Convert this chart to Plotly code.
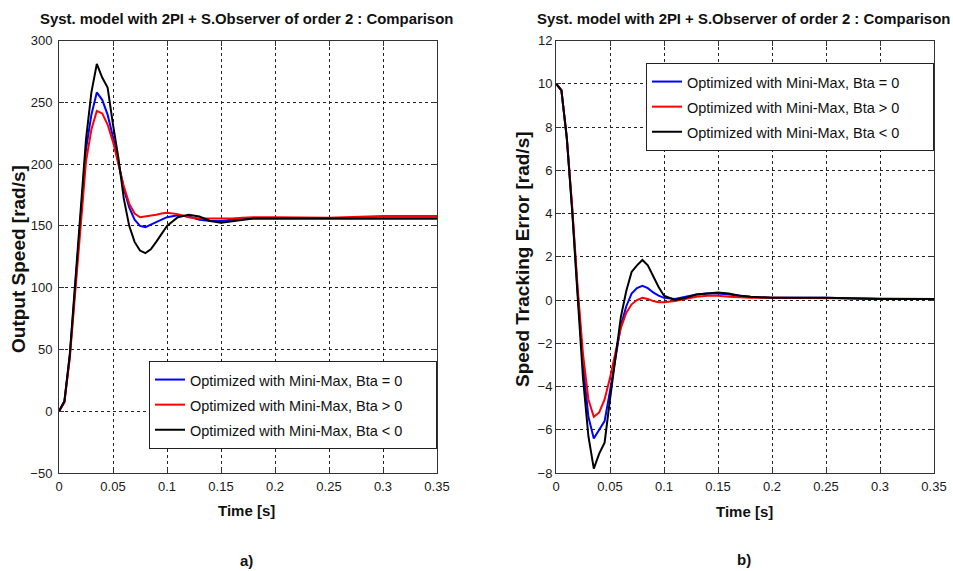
import plotly.graph_objects as go

W, H = 953, 571

time_s = [0, 0.005, 0.01, 0.015, 0.02, 0.025, 0.03, 0.035, 0.04, 0.045, 0.05, 0.055,
          0.06, 0.065, 0.07, 0.075, 0.08, 0.085, 0.09, 0.095, 0.1, 0.11, 0.12, 0.13,
          0.14, 0.15, 0.16, 0.17, 0.18, 0.2, 0.25, 0.3, 0.35]

speed_bta0 = [0, 8, 45, 102, 158, 212, 240, 258, 252, 240, 222, 200,
              180, 165, 155, 150, 149, 151, 153, 155, 157, 158.5, 157.5, 155,
              154, 154, 155, 156, 156, 156, 156, 156, 156]
speed_bta_pos = [0, 7, 43, 98, 152, 202, 228, 243, 241, 232, 218, 200,
                 182, 168, 160, 157, 157.5, 158.5, 159, 160, 160.5, 159.5, 157, 156,
                 156, 155.5, 156, 156.5, 157, 157, 156.5, 158, 158]
speed_bta_neg = [0, 8, 46, 104, 162, 220, 258, 281, 270, 262, 232, 205,
                 172, 150, 137, 130, 128, 131, 137, 144, 150, 157, 159, 157.5,
                 154, 152.5, 153.5, 155, 156, 156, 156, 156, 156]

err_bta0 = [10, 9.7, 7.5, 4.2, 0.4, -3.0, -5.4, -6.4, -6.0, -5.6, -4.2, -2.7,
            -1.2, -0.3, 0.3, 0.55, 0.65, 0.55, 0.35, 0.2, 0.1, 0.05, 0.15, 0.25,
            0.3, 0.3, 0.25, 0.2, 0.15, 0.1, 0.1, 0.05, 0.05]
err_bta_pos = [10, 9.7, 7.5, 4.3, 0.6, -2.5, -4.6, -5.4, -5.2, -4.6, -3.6, -2.4,
               -1.3, -0.6, -0.2, 0.0, 0.1, 0.05, -0.05, -0.1, -0.1, -0.05, 0.05, 0.15,
               0.2, 0.2, 0.15, 0.12, 0.1, 0.1, 0.08, 0.05, 0.05]
err_bta_neg = [10, 9.7, 7.5, 4.1, 0.2, -3.6, -6.3, -7.8, -7.1, -6.6, -4.6, -2.6,
               -0.8, 0.4, 1.3, 1.6, 1.85, 1.6, 1.1, 0.6, 0.2, 0.0, 0.1, 0.25,
               0.3, 0.35, 0.3, 0.2, 0.15, 0.1, 0.1, 0.05, 0.05]

names = ["Optimized with Mini-Max, Bta = 0",
         "Optimized with Mini-Max, Bta > 0",
         "Optimized with Mini-Max, Bta < 0"]
colors = ["#0000ff", "#ff0000", "#000000"]
x_ticks = [0, 0.05, 0.1, 0.15, 0.2, 0.25, 0.3, 0.35]
x_tick_labels = ["0", "0.05", "0.1", "0.15", "0.2", "0.25", "0.3", "0.35"]

title_text = "Syst. model with 2PI + S.Observer of order 2 : Comparison"
FONT = "Liberation Sans, Arial, sans-serif"
PAD = "&nbsp;" * 7


def leg_name(n):
    return "<span style='font-size:14.5px'>" + n + PAD + "</span>"


fig = go.Figure()
for ys, n, c in zip([speed_bta0, speed_bta_pos, speed_bta_neg], names, colors):
    fig.add_trace(go.Scatter(x=time_s, y=ys, name=leg_name(n),
                             mode="lines", line=dict(color=c, width=2), xaxis="x", yaxis="y",
                             legend="legend"))
for ys, n, c in zip([err_bta0, err_bta_pos, err_bta_neg], names, colors):
    fig.add_trace(go.Scatter(x=time_s, y=ys, name=leg_name(n),
                             mode="lines", line=dict(color=c, width=2), xaxis="x2", yaxis="y2",
                             legend="legend2"))


def px(x):
    return x / W


def py(y):
    return 1 - y / H


y_dom = [py(473), py(40.5)]
axis_common = dict(showline=True, linecolor="#333333", linewidth=1, mirror="allticks",
                   ticks="inside", ticklen=5, tickcolor="#333333",
                   showgrid=True, gridcolor="#222222", gridwidth=1, griddash="3px,3px",
                   zeroline=False, automargin=False,
                   tickfont=dict(family=FONT, size=13, color="#1a1a1a"))

fig.update_layout(
    width=W, height=H,
    margin=dict(l=0, r=0, t=0, b=0, pad=0, autoexpand=False),
    paper_bgcolor="white", plot_bgcolor="white",
    showlegend=True,
    xaxis=dict(domain=[px(59), px(437)], range=[0, 0.35], tickvals=x_ticks, ticktext=x_tick_labels,
               anchor="y", ticklabelstandoff=1, **axis_common),
    yaxis=dict(domain=y_dom, range=[-50, 300], tickvals=[-50, 0, 50, 100, 150, 200, 250, 300],
               anchor="x", ticklabelstandoff=3, **axis_common),
    xaxis2=dict(domain=[px(556), px(934)], range=[0, 0.35], tickvals=x_ticks, ticktext=x_tick_labels,
                anchor="y2", ticklabelstandoff=1, **axis_common),
    yaxis2=dict(domain=y_dom, range=[-8, 12], tickvals=list(range(-8, 13, 2)), anchor="x2",
                ticklabelstandoff=0, **axis_common),
    legend=dict(x=px(437), y=py(449), xanchor="right", yanchor="bottom",
                bgcolor="white", bordercolor="#222222", borderwidth=1,
                font=dict(family=FONT, size=17, color="#111111"), tracegroupgap=0),
    legend2=dict(x=px(934), y=py(63), xanchor="right", yanchor="top",
                 bgcolor="white", bordercolor="#222222", borderwidth=1,
                 font=dict(family=FONT, size=17, color="#111111"), tracegroupgap=0),
)

anns = [
    dict(text="<b>" + title_text + "</b>", x=px(246), y=py(19.5), size=14.9),
    dict(text="<b>" + title_text + "</b>", x=px(743), y=py(19.5), size=14.9),
    dict(text="<b>Time [s]</b>", x=px(247), y=py(510), size=15),
    dict(text="<b>Time [s]</b>", x=px(744), y=py(511), size=15),
    dict(text="<b>a)</b>", x=px(246), y=py(560), size=15),
    dict(text="<b>b)</b>", x=px(744), y=py(559), size=15),
    dict(text="<b>Output Speed [rad/s]</b>", x=px(18), y=py(259), size=19, textangle=-90),
    dict(text="<b>Speed Tracking Error [rad/s]</b>", x=px(522), y=py(259), size=19, textangle=-90),
]
for a in anns:
    size = a.pop("size")
    fig.add_annotation(xref="paper", yref="paper", showarrow=False,
                       xanchor="center", yanchor="middle",
                       font=dict(family=FONT, size=size, color="#111111"), **a)

fig.write_html("out.html")
